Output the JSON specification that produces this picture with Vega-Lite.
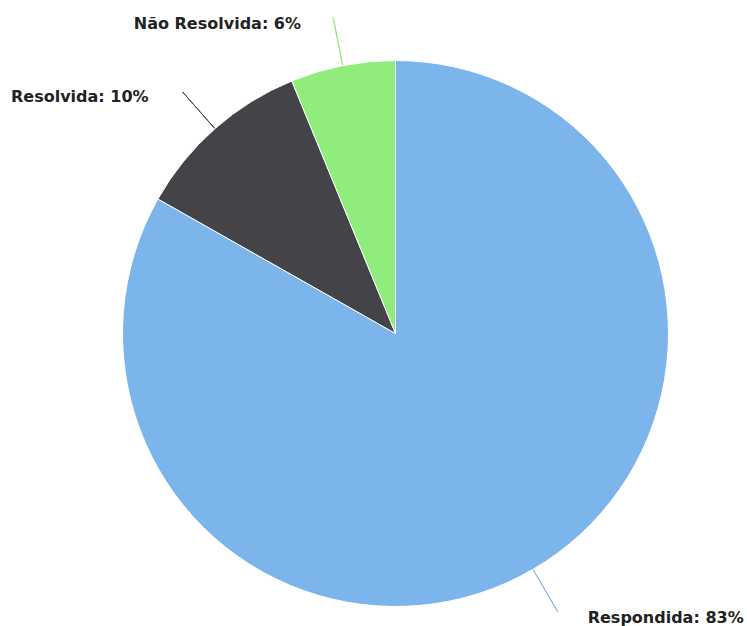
{
  "$schema": "https://vega.github.io/schema/vega-lite/v6.json",
  "autosize": {"type": "none"},
  "width": 705,
  "height": 587,
  "padding": {"left": 43, "top": 40, "right": 0, "bottom": 0},
  "background": "white",
  "config": {"view": {"stroke": null}},
  "data": {
    "values": [
      {"status": "Respondida", "count": 83.2, "label": "Respondida: 83%"},
      {"status": "Resolvida", "count": 10.6, "label": "Resolvida: 10%"},
      {"status": "Não Resolvida", "count": 6.2, "label": "Não Resolvida: 6%"}
    ]
  },
  "resolve": {"scale": {"theta": "independent"}},
  "layer": [
    {
      "transform": [
        {"fold": ["count", "count"], "as": ["k", "v"]},
        {"window": [{"op": "row_number", "as": "rn"}], "groupby": ["status"]},
        {"stack": "v", "groupby": [], "sort": [{"field": "status", "order": "descending"}, {"field": "rn", "order": "ascending"}], "as": ["s0", "s1"]}
      ],
      "mark": {"type": "arc", "filled": false, "innerRadius": 273, "outerRadius": 322, "strokeWidth": 1},
      "encoding": {
        "theta": {"field": "s1", "type": "quantitative", "stack": null},
        "theta2": {"field": "s1"},
        "color": {"field": "status", "type": "nominal", "scale": {"domain": ["Respondida", "Resolvida", "Não Resolvida"], "range": ["#7cb5ec", "#434348", "#90ed7d"]}, "legend": null},
        "opacity": {"condition": {"test": "datum.rn == 1", "value": 1}, "value": 0}
      }
    },
    {
      "mark": {"type": "arc", "outerRadius": 273, "stroke": "white", "strokeWidth": 1},
      "encoding": {
        "theta": {"field": "count", "type": "quantitative", "stack": true},
        "order": {"field": "status", "sort": "descending"},
        "color": {"field": "status", "type": "nominal", "scale": {"domain": ["Respondida", "Resolvida", "Não Resolvida"], "range": ["#7cb5ec", "#434348", "#90ed7d"]}, "legend": null}
      }
    },
    {
      "mark": {"type": "text", "radius": 328, "dx": 27, "dy": 6, "align": "left", "baseline": "alphabetic", "font": "DejaVu Sans", "fontSize": 16, "fontWeight": "bold", "fill": "#222222"},
      "encoding": {
        "theta": {"field": "count", "type": "quantitative", "stack": true},
        "order": {"field": "status", "sort": "descending"},
        "text": {"condition": {"test": "datum.status == 'Respondida'", "field": "label"}, "value": ""}
      }
    },
    {
      "mark": {"type": "text", "radius": 328, "dx": -30, "dy": 15, "align": "right", "baseline": "alphabetic", "font": "DejaVu Sans", "fontSize": 16, "fontWeight": "bold", "fill": "#222222"},
      "encoding": {
        "theta": {"field": "count", "type": "quantitative", "stack": true},
        "order": {"field": "status", "sort": "descending"},
        "text": {"condition": {"test": "datum.status == 'Resolvida'", "field": "label"}, "value": ""}
      }
    },
    {
      "mark": {"type": "text", "radius": 328, "dx": -31, "dy": 17, "align": "right", "baseline": "alphabetic", "font": "DejaVu Sans", "fontSize": 16, "fontWeight": "bold", "fill": "#222222"},
      "encoding": {
        "theta": {"field": "count", "type": "quantitative", "stack": true},
        "order": {"field": "status", "sort": "descending"},
        "text": {"condition": {"test": "datum.status == 'Não Resolvida'", "field": "label"}, "value": ""}
      }
    }
  ]
}
